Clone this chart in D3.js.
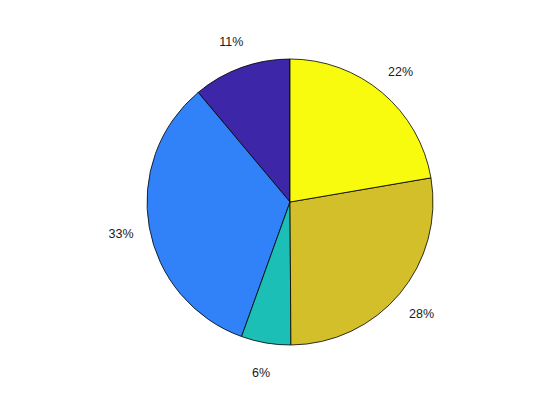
<!DOCTYPE html>
<html>
<head>
<meta charset="utf-8">
<script src="https://cdn.jsdelivr.net/npm/d3@7"></script>
<style>
  html, body { margin: 0; padding: 0; background: #fff; }
  svg { display: block; }
</style>
</head>
<body>
<svg id="chart" width="560" height="420"></svg>
<script>
// Slices in MATLAB order (counterclockwise from 12 o'clock)
const categories = ["A", "B", "C", "D", "E"];
const values = [11.1, 33.4, 5.6, 27.6, 22.3];
const colors = ["#3E26A8", "#3181F8", "#1BBFB6", "#D3BF2A", "#F9FB0E"];

const width = 560, height = 420;
const cx = 290, cy = 202, r = 143;
const labelR = r * 1.2;

const svg = d3.select("#chart");
const g = svg.append("g").attr("transform", `translate(${cx},${cy})`);

const total = d3.sum(values);
// counterclockwise from top: d3 angles are clockwise from top, so negate
const pie = d3.pie().sort(null).value(d => d)
  .startAngle(0).endAngle(-2 * Math.PI);
const arcs = pie(values);
const arc = d3.arc().innerRadius(0).outerRadius(r);

g.selectAll("path.slice")
  .data(arcs)
  .join("path")
  .attr("class", "slice")
  .attr("d", arc)
  .attr("fill", (d, i) => colors[i])
  .attr("stroke", "#000")
  .attr("stroke-width", 0.8)
  .attr("stroke-linejoin", "round");

const labelArc = d3.arc().innerRadius(labelR).outerRadius(labelR);
g.selectAll("text.lbl")
  .data(arcs)
  .join("text")
  .attr("class", "lbl")
  .attr("transform", d => {
    const [x, y] = labelArc.centroid(d);
    return `translate(${x},${y + 1.5})`;
  })
  .attr("text-anchor", "middle")
  .attr("dominant-baseline", "central")
  .attr("font-family", "Liberation Sans, Arial, Helvetica, sans-serif")
  .attr("font-size", "12.5px")
  .attr("fill", "#1a1a1a")
  .text(d => Math.round(d.data / total * 100) + "%");
</script>
</body>
</html>
